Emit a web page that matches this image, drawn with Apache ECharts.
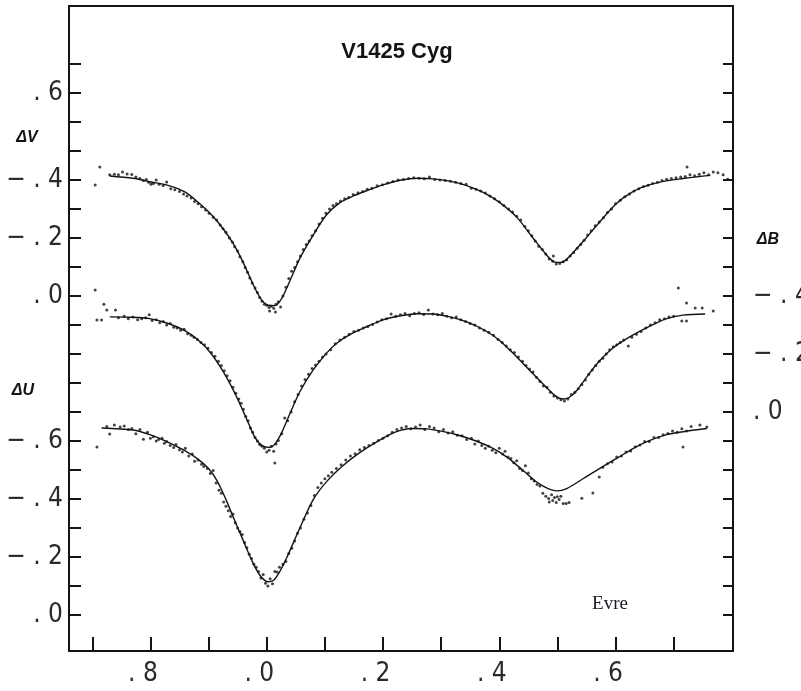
<!DOCTYPE html>
<html>
<head>
<meta charset="utf-8">
<script src="https://cdn.jsdelivr.net/npm/echarts@6/dist/echarts.min.js"></script>
<style>
  html, body { margin: 0; padding: 0; background: #ffffff; }
  #chart { width: 801px; height: 691px; }
</style>
</head>
<body>
<div id="chart"></div>
<script>
// ---- Phase axis ----
const phaseTicks = [-0.3, -0.2, -0.1, 0, 0.1, 0.2, 0.3, 0.4, 0.5, 0.6, 0.7];
const phaseLabelValues = [-0.2, 0, 0.2, 0.4, 0.6];
const phaseLabelTexts = ['.8', '.0', '.2', '.4', '.6'];

// ---- Magnitude axes (ticks every 0.1 mag) ----
const uTicks = [-1.9, -1.8, -1.7, -1.6, -1.5, -1.4, -1.3, -1.2, -1.1, -1.0, -0.9, -0.8, -0.7, -0.6, -0.5, -0.4, -0.3, -0.2, -0.1, 0];
const uLabelValues = [0, -0.2, -0.4, -0.6];
const uLabelTexts = ['.0', '−.2', '−.4', '−.6'];
const vLabelValues = [0, -0.2, -0.4, -0.7];
const vLabelTexts = ['.0', '−.2', '−.4', '.6'];
const bTicks = [-1.2, -1.1, -1.0, -0.9, -0.8, -0.7, -0.6, -0.5, -0.4, -0.3, -0.2, -0.1, 0, 0.1, 0.2, 0.3, 0.4, 0.5, 0.6, 0.7];
const bLabelValues = [-0.4, -0.2, 0];
const bLabelTexts = ['−.4', '−.2', '.0'];

// ---- ΔV: fitted light curve and observations [phase, mag] ----
const vCurve = [
  [-0.270,-0.414],[-0.230,-0.406],[-0.201,-0.394],[-0.167,-0.380],[-0.140,-0.358],[-0.115,-0.318],
  [-0.095,-0.280],[-0.075,-0.232],[-0.058,-0.182],[-0.042,-0.122],[-0.029,-0.065],[-0.018,-0.018],
  [-0.008,0.015],[0.003,0.032],[0.014,0.033],[0.022,0.020],[0.030,-0.008],[0.042,-0.062],
  [0.057,-0.130],[0.080,-0.210],[0.103,-0.280],[0.126,-0.322],[0.150,-0.346],[0.172,-0.363],
  [0.200,-0.383],[0.229,-0.399],[0.260,-0.406],[0.286,-0.404],[0.315,-0.396],[0.345,-0.380],
  [0.375,-0.355],[0.401,-0.322],[0.430,-0.272],[0.458,-0.200],[0.482,-0.140],[0.496,-0.117],
  [0.506,-0.116],[0.516,-0.127],[0.544,-0.188],[0.573,-0.256],[0.602,-0.320],[0.630,-0.360],
  [0.659,-0.384],[0.690,-0.398],[0.716,-0.405],[0.740,-0.411],[0.763,-0.416]
];
const vPoints = [
  [-0.295,-0.383],[-0.287,-0.445],[-0.270,-0.418],[-0.262,-0.420],[-0.255,-0.418],[-0.248,-0.428],
  [-0.240,-0.421],[-0.232,-0.419],[-0.225,-0.410],[-0.218,-0.405],[-0.212,-0.398],[-0.207,-0.402],
  [-0.203,-0.392],[-0.199,-0.385],[-0.195,-0.388],[-0.190,-0.400],[-0.185,-0.385],[-0.178,-0.381],
  [-0.172,-0.393],[-0.165,-0.370],[-0.158,-0.366],[-0.150,-0.360],[-0.143,-0.352],[-0.137,-0.345],
  [-0.130,-0.338],[-0.124,-0.326],[-0.118,-0.318],[-0.112,-0.308],[-0.105,-0.297],[-0.099,-0.285],
  [-0.092,-0.272],[-0.086,-0.262],[-0.080,-0.245],[-0.075,-0.232],[-0.070,-0.220],[-0.064,-0.200],
  [-0.059,-0.186],[-0.055,-0.170],[-0.050,-0.155],[-0.046,-0.135],[-0.041,-0.118],[-0.037,-0.098],
  [-0.033,-0.082],[-0.029,-0.062],[-0.025,-0.045],[-0.020,-0.028],[-0.016,-0.012],[-0.012,0.005],
  [-0.008,0.018],[-0.004,0.028],[0.000,0.032],[0.004,0.040],[0.005,0.052],[0.008,0.035],
  [0.012,0.042],[0.015,0.055],[0.016,0.028],[0.020,0.020],[0.024,0.038],[0.028,0.000],
  [0.033,-0.030],[0.038,-0.060],[0.043,-0.085],[0.048,-0.098],[0.053,-0.118],[0.058,-0.138],
  [0.063,-0.160],[0.068,-0.178],[0.073,-0.190],[0.078,-0.208],[0.084,-0.225],[0.090,-0.248],
  [0.096,-0.268],[0.102,-0.285],[0.108,-0.300],[0.114,-0.312],[0.120,-0.318],[0.127,-0.328],
  [0.134,-0.335],[0.141,-0.340],[0.149,-0.350],[0.157,-0.356],[0.165,-0.360],[0.173,-0.368],
  [0.181,-0.372],[0.190,-0.380],[0.199,-0.384],[0.208,-0.390],[0.217,-0.395],[0.226,-0.400],
  [0.235,-0.402],[0.244,-0.405],[0.253,-0.408],[0.262,-0.406],[0.271,-0.404],[0.280,-0.410],
  [0.289,-0.402],[0.298,-0.400],[0.307,-0.398],[0.316,-0.396],[0.325,-0.392],[0.334,-0.388],
  [0.343,-0.385],[0.352,-0.372],[0.360,-0.368],[0.368,-0.362],[0.376,-0.355],[0.384,-0.345],
  [0.392,-0.335],[0.400,-0.325],[0.408,-0.312],[0.416,-0.300],[0.423,-0.290],[0.430,-0.275],
  [0.437,-0.262],[0.444,-0.240],[0.450,-0.225],[0.456,-0.208],[0.462,-0.190],[0.468,-0.172],
  [0.474,-0.160],[0.480,-0.145],[0.486,-0.128],[0.493,-0.138],[0.492,-0.120],[0.498,-0.110],
  [0.504,-0.112],[0.510,-0.118],[0.516,-0.125],[0.522,-0.138],[0.528,-0.150],[0.534,-0.165],
  [0.540,-0.178],[0.546,-0.192],[0.552,-0.210],[0.558,-0.225],[0.565,-0.242],[0.572,-0.255],
  [0.579,-0.270],[0.586,-0.288],[0.593,-0.300],[0.600,-0.318],[0.608,-0.330],[0.616,-0.342],
  [0.624,-0.352],[0.632,-0.362],[0.640,-0.370],[0.648,-0.378],[0.656,-0.382],[0.664,-0.388],
  [0.672,-0.392],[0.680,-0.398],[0.688,-0.403],[0.696,-0.405],[0.704,-0.408],[0.712,-0.410],
  [0.723,-0.445],[0.720,-0.412],[0.728,-0.418],[0.736,-0.415],[0.744,-0.420],[0.752,-0.425],
  [0.760,-0.418],[0.768,-0.428],[0.776,-0.425],[0.785,-0.418],[0.793,-0.403]
];

// ---- ΔB ----
const bCurve = [
  [-0.270,-0.328],[-0.235,-0.327],[-0.201,-0.322],[-0.172,-0.307],[-0.140,-0.280],[-0.115,-0.243],
  [-0.095,-0.200],[-0.075,-0.140],[-0.058,-0.078],[-0.042,-0.010],[-0.030,0.045],[-0.020,0.088],
  [-0.008,0.116],[0.005,0.122],[0.015,0.108],[0.026,0.070],[0.040,0.005],[0.057,-0.070],
  [0.080,-0.145],[0.103,-0.203],[0.121,-0.238],[0.146,-0.270],[0.172,-0.294],[0.200,-0.318],
  [0.230,-0.332],[0.260,-0.339],[0.286,-0.338],[0.315,-0.328],[0.345,-0.310],[0.375,-0.282],
  [0.401,-0.246],[0.430,-0.190],[0.458,-0.132],[0.482,-0.083],[0.499,-0.052],[0.510,-0.045],
  [0.520,-0.050],[0.534,-0.076],[0.556,-0.136],[0.573,-0.178],[0.595,-0.220],[0.620,-0.254],
  [0.659,-0.296],[0.688,-0.322],[0.716,-0.334],[0.754,-0.338]
];
const bPoints = [
  [-0.295,-0.421],[-0.280,-0.372],[-0.292,-0.317],[-0.284,-0.317],[-0.275,-0.352],[-0.260,-0.352],
  [-0.255,-0.325],[-0.245,-0.330],[-0.238,-0.322],[-0.230,-0.328],[-0.222,-0.318],[-0.215,-0.322],
  [-0.208,-0.325],[-0.202,-0.335],[-0.197,-0.316],[-0.190,-0.318],[-0.184,-0.308],[-0.178,-0.312],
  [-0.172,-0.300],[-0.166,-0.305],[-0.160,-0.292],[-0.154,-0.290],[-0.148,-0.282],[-0.142,-0.285],
  [-0.136,-0.270],[-0.130,-0.265],[-0.125,-0.258],[-0.119,-0.250],[-0.113,-0.240],[-0.107,-0.232],
  [-0.101,-0.220],[-0.095,-0.205],[-0.089,-0.192],[-0.083,-0.175],[-0.078,-0.160],[-0.073,-0.142],
  [-0.068,-0.125],[-0.063,-0.108],[-0.058,-0.085],[-0.053,-0.065],[-0.048,-0.045],[-0.044,-0.030],
  [-0.040,-0.010],[-0.036,0.015],[-0.032,0.030],[-0.028,0.055],[-0.024,0.070],[-0.020,0.088],
  [-0.016,0.100],[-0.012,0.112],[-0.008,0.118],[-0.004,0.125],[0.000,0.138],[0.004,0.132],
  [0.008,0.118],[0.012,0.135],[0.016,0.110],[0.014,0.176],[0.020,0.098],[0.026,0.075],
  [0.031,0.021],[0.036,0.030],[0.042,0.000],[0.048,-0.035],[0.054,-0.060],[0.060,-0.090],
  [0.066,-0.112],[0.072,-0.130],[0.078,-0.150],[0.084,-0.162],[0.090,-0.175],[0.096,-0.190],
  [0.102,-0.200],[0.110,-0.215],[0.118,-0.235],[0.126,-0.248],[0.134,-0.258],[0.142,-0.268],
  [0.150,-0.278],[0.158,-0.282],[0.166,-0.290],[0.174,-0.295],[0.182,-0.302],[0.190,-0.310],
  [0.198,-0.318],[0.206,-0.322],[0.214,-0.338],[0.222,-0.330],[0.230,-0.335],[0.238,-0.340],
  [0.246,-0.332],[0.254,-0.340],[0.262,-0.342],[0.270,-0.336],[0.278,-0.352],[0.286,-0.338],
  [0.294,-0.335],[0.302,-0.340],[0.310,-0.330],[0.318,-0.325],[0.326,-0.328],[0.334,-0.318],
  [0.342,-0.312],[0.350,-0.305],[0.358,-0.300],[0.366,-0.290],[0.374,-0.282],[0.382,-0.275],
  [0.390,-0.265],[0.398,-0.250],[0.405,-0.240],[0.412,-0.228],[0.419,-0.215],[0.426,-0.205],
  [0.433,-0.190],[0.440,-0.175],[0.446,-0.160],[0.452,-0.148],[0.458,-0.138],[0.464,-0.120],
  [0.470,-0.105],[0.476,-0.090],[0.482,-0.085],[0.488,-0.068],[0.494,-0.055],[0.500,-0.048],
  [0.506,-0.042],[0.512,-0.038],[0.518,-0.045],[0.524,-0.060],[0.530,-0.068],[0.536,-0.080],
  [0.542,-0.095],[0.548,-0.110],[0.554,-0.130],[0.560,-0.145],[0.566,-0.160],[0.572,-0.175],
  [0.578,-0.185],[0.584,-0.200],[0.590,-0.215],[0.596,-0.225],[0.602,-0.232],[0.608,-0.240],
  [0.614,-0.248],[0.622,-0.228],[0.628,-0.258],[0.636,-0.268],[0.644,-0.278],[0.652,-0.290],
  [0.660,-0.300],[0.668,-0.308],[0.676,-0.318],[0.684,-0.322],[0.692,-0.328],[0.700,-0.330],
  [0.708,-0.428],[0.714,-0.314],[0.722,-0.314],[0.722,-0.376],[0.737,-0.359],[0.749,-0.359],
  [0.768,-0.348]
];

// ---- ΔU ----
const uCurve = [
  [-0.284,-0.645],[-0.230,-0.638],[-0.201,-0.622],[-0.172,-0.598],[-0.144,-0.570],[-0.120,-0.540],
  [-0.100,-0.505],[-0.085,-0.462],[-0.070,-0.398],[-0.056,-0.330],[-0.041,-0.260],[-0.026,-0.190],
  [-0.012,-0.138],[0.002,-0.115],[0.012,-0.120],[0.022,-0.148],[0.035,-0.200],[0.057,-0.300],
  [0.080,-0.398],[0.103,-0.460],[0.131,-0.515],[0.160,-0.560],[0.190,-0.598],[0.220,-0.630],
  [0.250,-0.643],[0.275,-0.642],[0.300,-0.634],[0.330,-0.620],[0.360,-0.600],[0.390,-0.574],
  [0.415,-0.542],[0.440,-0.500],[0.465,-0.458],[0.485,-0.435],[0.500,-0.428],[0.516,-0.436],
  [0.544,-0.470],[0.573,-0.506],[0.602,-0.540],[0.630,-0.574],[0.659,-0.602],[0.688,-0.622],
  [0.716,-0.632],[0.757,-0.643]
];
const uPoints = [
  [-0.292,-0.579],[-0.270,-0.624],[-0.275,-0.650],[-0.262,-0.655],[-0.252,-0.648],[-0.245,-0.652],
  [-0.238,-0.640],[-0.232,-0.643],[-0.225,-0.625],[-0.218,-0.640],[-0.212,-0.606],[-0.205,-0.630],
  [-0.200,-0.610],[-0.195,-0.615],[-0.190,-0.600],[-0.186,-0.605],[-0.180,-0.610],[-0.176,-0.592],
  [-0.172,-0.598],[-0.166,-0.585],[-0.160,-0.578],[-0.156,-0.588],[-0.150,-0.570],[-0.145,-0.562],
  [-0.140,-0.575],[-0.134,-0.548],[-0.128,-0.555],[-0.124,-0.530],[-0.118,-0.535],[-0.112,-0.520],
  [-0.108,-0.512],[-0.102,-0.505],[-0.097,-0.488],[-0.092,-0.498],[-0.087,-0.455],[-0.082,-0.430],
  [-0.078,-0.420],[-0.074,-0.390],[-0.070,-0.375],[-0.066,-0.360],[-0.062,-0.340],[-0.058,-0.348],
  [-0.054,-0.318],[-0.050,-0.300],[-0.046,-0.288],[-0.042,-0.278],[-0.038,-0.250],[-0.034,-0.232],
  [-0.030,-0.210],[-0.026,-0.195],[-0.022,-0.175],[-0.018,-0.165],[-0.014,-0.150],[-0.010,-0.128],
  [-0.006,-0.140],[-0.002,-0.110],[0.002,-0.100],[0.006,-0.125],[0.010,-0.108],[0.014,-0.150],
  [0.018,-0.148],[0.022,-0.165],[0.028,-0.175],[0.033,-0.185],[0.038,-0.212],[0.043,-0.230],
  [0.048,-0.255],[0.053,-0.282],[0.058,-0.300],[0.064,-0.330],[0.070,-0.352],[0.076,-0.378],
  [0.082,-0.412],[0.088,-0.440],[0.094,-0.455],[0.100,-0.470],[0.106,-0.480],[0.112,-0.492],
  [0.120,-0.505],[0.128,-0.518],[0.136,-0.535],[0.144,-0.548],[0.152,-0.556],[0.160,-0.570],
  [0.168,-0.578],[0.176,-0.585],[0.184,-0.592],[0.192,-0.602],[0.200,-0.610],[0.208,-0.618],
  [0.216,-0.630],[0.224,-0.640],[0.232,-0.645],[0.240,-0.650],[0.248,-0.642],[0.256,-0.648],
  [0.264,-0.655],[0.272,-0.640],[0.280,-0.650],[0.288,-0.645],[0.296,-0.632],[0.304,-0.640],
  [0.312,-0.628],[0.320,-0.632],[0.328,-0.620],[0.336,-0.618],[0.344,-0.605],[0.352,-0.610],
  [0.358,-0.590],[0.364,-0.600],[0.370,-0.585],[0.376,-0.575],[0.382,-0.582],[0.388,-0.568],
  [0.394,-0.560],[0.400,-0.575],[0.406,-0.555],[0.410,-0.565],[0.415,-0.545],[0.420,-0.540],
  [0.425,-0.525],[0.430,-0.532],[0.435,-0.505],[0.440,-0.498],[0.445,-0.515],[0.450,-0.490],
  [0.455,-0.470],[0.460,-0.462],[0.465,-0.450],[0.470,-0.445],[0.475,-0.420],[0.480,-0.410],
  [0.485,-0.402],[0.486,-0.390],[0.490,-0.415],[0.492,-0.395],[0.495,-0.405],[0.498,-0.388],
  [0.500,-0.408],[0.503,-0.398],[0.506,-0.410],[0.510,-0.385],[0.515,-0.385],[0.520,-0.388],
  [0.542,-0.403],[0.561,-0.421],[0.572,-0.476],[0.578,-0.510],[0.586,-0.522],[0.594,-0.528],
  [0.602,-0.545],[0.610,-0.548],[0.618,-0.562],[0.626,-0.566],[0.634,-0.580],[0.642,-0.586],
  [0.650,-0.598],[0.658,-0.598],[0.666,-0.612],[0.674,-0.612],[0.682,-0.622],[0.690,-0.626],
  [0.698,-0.635],[0.706,-0.630],[0.714,-0.642],[0.716,-0.579],[0.722,-0.635],[0.730,-0.650],
  [0.745,-0.655],[0.757,-0.648]
];

const INK = '#141414';
const NUM_FONT = '"Liberation Sans Narrow", "DejaVu Sans Condensed", "Liberation Sans", sans-serif';

// Look up the text drawn at a given axis value
function pick(values, texts, v) {
  for (let i = 0; i < values.length; i++) {
    if (Math.abs(values[i] - v) < 1e-6) return texts[i];
  }
  return '';
}
// Spread the characters of a tick label apart: "−.4" -> "− . 4"
const spaced = (s) => s.split('').join(' ');

const chart = echarts.init(document.getElementById('chart'), null, { renderer: 'canvas' });

const numLabel = {
  color: '#2a2a2a',
  fontFamily: NUM_FONT,
  fontSize: 26,
  fontWeight: 'normal'
};

const lineStyle = { color: INK, width: 2 };
const fitStyle = { color: INK, width: 1.4 };

chart.setOption({
  animation: false,
  backgroundColor: '#ffffff',
  grid: {
    left: 69, top: 6, right: 68, bottom: 40,
    show: true, borderColor: INK, borderWidth: 2,
    outerBoundsMode: 'none', containLabel: false
  },
  xAxis: {
    type: 'value',
    min: -0.34, max: 0.802,
    axisLine: { show: true, onZero: false, lineStyle: lineStyle },
    splitLine: { show: false },
    axisTick: {
      show: true, inside: true, length: 14,
      customValues: phaseTicks,
      lineStyle: lineStyle
    },
    axisLabel: {
      show: true, margin: 10,
      customValues: phaseLabelValues,
      formatter: (v) => {
        const t = pick(phaseLabelValues, phaseLabelTexts, v);
        return '{p|. }{d|' + t.slice(1) + '}{q|. }';
      },
      rich: {
        p: Object.assign({}, numLabel),
        d: Object.assign({}, numLabel),
        q: Object.assign({}, numLabel, { color: 'rgba(0,0,0,0)' })
      }
    }
  },
  yAxis: [
    { // ΔU scale (left, lower curve)
      type: 'value', position: 'left', inverse: true,
      min: -2.1, max: 0.124,
      axisLine: { show: true, onZero: false, lineStyle: lineStyle },
      splitLine: { show: false },
      axisTick: { show: true, inside: true, length: 12, customValues: uTicks, lineStyle: lineStyle },
      axisLabel: Object.assign({
        show: true, margin: 6, customValues: uLabelValues,
        formatter: (v) => spaced(pick(uLabelValues, uLabelTexts, v))
      }, numLabel)
    },
    { // ΔV scale (left, upper curve)
      type: 'value', position: 'left', inverse: true,
      min: -1.0, max: 1.224,
      axisLine: { show: false, onZero: false }, splitLine: { show: false }, axisTick: { show: false },
      axisLabel: Object.assign({
        show: true, margin: 6, customValues: vLabelValues,
        formatter: (v) => spaced(pick(vLabelValues, vLabelTexts, v))
      }, numLabel)
    },
    { // ΔB scale (right, middle curve)
      type: 'value', position: 'right', inverse: true,
      min: -1.4, max: 0.824,
      axisLine: { show: true, onZero: false, lineStyle: lineStyle },
      splitLine: { show: false },
      axisTick: { show: true, inside: true, length: 10, customValues: bTicks, lineStyle: lineStyle },
      axisLabel: Object.assign({
        show: true, margin: 20, customValues: bLabelValues,
        formatter: (v) => spaced(pick(bLabelValues, bLabelTexts, v))
      }, numLabel)
    }
  ],
  series: [
    { name: 'ΔV fit', type: 'line', yAxisIndex: 1, data: vCurve, smooth: 0.3,
      showSymbol: false, lineStyle: fitStyle, z: 2 },
    { name: 'ΔV', type: 'scatter', yAxisIndex: 1, data: vPoints, symbolSize: 3,
      itemStyle: { color: INK }, z: 3 },
    { name: 'ΔB fit', type: 'line', yAxisIndex: 2, data: bCurve, smooth: 0.3,
      showSymbol: false, lineStyle: fitStyle, z: 2 },
    { name: 'ΔB', type: 'scatter', yAxisIndex: 2, data: bPoints, symbolSize: 3,
      itemStyle: { color: INK }, z: 3 },
    { name: 'ΔU fit', type: 'line', yAxisIndex: 0, data: uCurve, smooth: 0.3,
      showSymbol: false, lineStyle: fitStyle, z: 2 },
    { name: 'ΔU', type: 'scatter', yAxisIndex: 0, data: uPoints, symbolSize: 3,
      itemStyle: { color: INK }, z: 3 }
  ],
  graphic: [
    { type: 'text', x: 397, y: 52, style: { text: 'V1425 Cyg', fill: INK,
      font: 'bold 22px "Liberation Sans", Arial, sans-serif', align: 'center', verticalAlign: 'middle' } },
    { type: 'text', x: 27, y: 138, style: { text: 'ΔV', fill: INK,
      font: 'italic bold 16px "Liberation Sans", Arial, sans-serif', align: 'center', verticalAlign: 'middle' } },
    { type: 'text', x: 23, y: 391, style: { text: 'ΔU', fill: INK,
      font: 'italic bold 16px "Liberation Sans", Arial, sans-serif', align: 'center', verticalAlign: 'middle' } },
    { type: 'text', x: 768, y: 240, style: { text: 'ΔB', fill: INK,
      font: 'italic bold 16px "Liberation Sans", Arial, sans-serif', align: 'center', verticalAlign: 'middle' } },
    { type: 'text', x: 610, y: 604, style: { text: 'Evre', fill: '#1a1a28',
      font: '19px "Liberation Serif", "Times New Roman", serif', align: 'center', verticalAlign: 'middle' } }
  ]
});
</script>
</body>
</html>
